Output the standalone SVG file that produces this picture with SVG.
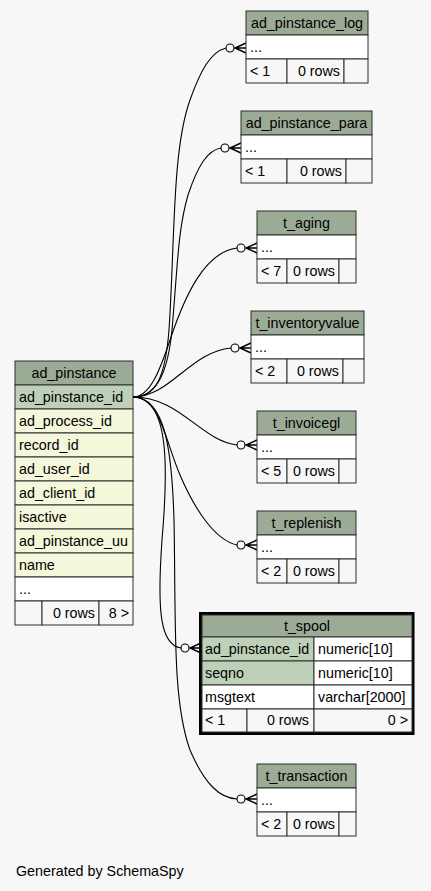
<svg xmlns="http://www.w3.org/2000/svg" width="431" height="891" viewBox="0 0 431 891">
<style>
text{font-family:"Liberation Sans",Arial,Helvetica,sans-serif;font-size:14.3px;fill:#000}
.c{stroke:#2e2e2e;stroke-width:1}
.h{fill:#9bab96}
.k{fill:#bed1b8}
.r{fill:#f4f7da}
.w{fill:#ffffff}
.f{fill:#f7f7f7}
.m{text-anchor:middle}
.e{text-anchor:end}
.edge{fill:none;stroke:#000;stroke-width:1.1}
.o{fill:#f7f7f7;stroke:#000;stroke-width:1.1}
.crow{fill:none;stroke:#000;stroke-width:1.4}
</style>
<rect x="0" y="0" width="431" height="891" fill="#f7f7f7"/>

<g id="connectors">
<path class="edge" d="M133,397 C155,397 165,380 169,330 C175,240 172,150 190,100 C200,72 210,52 226,48"/>
<circle class="o" cx="230" cy="48" r="4"/>
<path class="crow" d="M246,43 L235,48 L246,53 M235,48 L246,48"/>
<path class="edge" d="M133,397 C158,397 168,370 172,330 C178,260 178,230 188,195 C198,165 208,150 221,148"/>
<circle class="o" cx="225" cy="148" r="4"/>
<path class="crow" d="M241,143 L230,148 L241,153 M230,148 L241,148"/>
<path class="edge" d="M133,397 C150,397 160,370 170,340 C185,295 205,252 237,248"/>
<circle class="o" cx="241" cy="248" r="4"/>
<path class="crow" d="M257,243 L246,248 L257,253 M246,248 L257,248"/>
<path class="edge" d="M133,397 C170,397 190,352 231,348"/>
<circle class="o" cx="235" cy="348" r="4"/>
<path class="crow" d="M251,343 L240,348 L251,353 M240,348 L251,348"/>
<path class="edge" d="M133,397 C180,397 200,440 237,445"/>
<circle class="o" cx="241" cy="445" r="4"/>
<path class="crow" d="M257,440 L246,445 L257,450 M246,445 L257,445"/>
<path class="edge" d="M133,397 C160,397 165,440 180,475 C195,510 215,540 237,545"/>
<circle class="o" cx="241" cy="545" r="4"/>
<path class="crow" d="M257,540 L246,545 L257,550 M246,545 L257,545"/>
<path class="edge" d="M133,397 C170,397 168,470 162,540 C157,610 160,645 181,648"/>
<circle class="o" cx="185" cy="648" r="4"/>
<path class="crow" d="M201,643 L190,648 L201,653 M190,648 L201,648"/>
<path class="edge" d="M133,397 C165,397 172,450 174,520 C176,620 172,700 190,750 C205,785 220,798 237,799"/>
<circle class="o" cx="241" cy="799" r="4"/>
<path class="crow" d="M257,794 L246,799 L257,804 M246,799 L257,799"/>
</g>

<g id="ad_pinstance">
<rect class="c h" x="15" y="361" width="118" height="24"/>
<text class="m" x="74" y="378">ad_pinstance</text>
<rect class="c k" x="15" y="385" width="118" height="24"/>
<text x="19" y="402">ad_pinstance_id</text>
<rect class="c r" x="15" y="409" width="118" height="24"/>
<text x="19" y="426">ad_process_id</text>
<rect class="c r" x="15" y="433" width="118" height="24"/>
<text x="19" y="450">record_id</text>
<rect class="c r" x="15" y="457" width="118" height="24"/>
<text x="19" y="474">ad_user_id</text>
<rect class="c r" x="15" y="481" width="118" height="24"/>
<text x="19" y="498">ad_client_id</text>
<rect class="c r" x="15" y="505" width="118" height="24"/>
<text x="19" y="522">isactive</text>
<rect class="c r" x="15" y="529" width="118" height="24"/>
<text x="19" y="546">ad_pinstance_uu</text>
<rect class="c r" x="15" y="553" width="118" height="24"/>
<text x="19" y="570">name</text>
<rect class="c w" x="15" y="577" width="118" height="24"/>
<text x="19" y="594">...</text>
<rect class="c f" x="15" y="601" width="27" height="24"/>
<rect class="c f" x="42" y="601" width="57" height="24"/>
<rect class="c f" x="99" y="601" width="34" height="24"/>
<text class="e" x="95" y="618">0 rows</text>
<text class="e" x="129" y="618">8 &gt;</text>
</g>

<g id="ad_pinstance_log">
<rect class="c h" x="246" y="11" width="122" height="24"/>
<text class="m" x="307" y="28">ad_pinstance_log</text>
<rect class="c w" x="246" y="35" width="122" height="24"/>
<text x="250" y="52">...</text>
<rect class="c f" x="246" y="59" width="41" height="24"/>
<rect class="c f" x="287" y="59" width="57" height="24"/>
<rect class="c f" x="344" y="59" width="24" height="24"/>
<text x="250" y="76">&lt; 1</text>
<text class="e" x="340" y="76">0 rows</text>
</g>

<g id="ad_pinstance_para">
<rect class="c h" x="241" y="111" width="131" height="24"/>
<text class="m" x="306.5" y="128">ad_pinstance_para</text>
<rect class="c w" x="241" y="135" width="131" height="24"/>
<text x="245" y="152">...</text>
<rect class="c f" x="241" y="159" width="46" height="24"/>
<rect class="c f" x="287" y="159" width="59" height="24"/>
<rect class="c f" x="346" y="159" width="26" height="24"/>
<text x="245" y="176">&lt; 1</text>
<text class="e" x="342" y="176">0 rows</text>
</g>

<g id="t_aging">
<rect class="c h" x="257" y="211" width="99" height="24"/>
<text class="m" x="306.5" y="228">t_aging</text>
<rect class="c w" x="257" y="235" width="99" height="24"/>
<text x="261" y="252">...</text>
<rect class="c f" x="257" y="259" width="30" height="24"/>
<rect class="c f" x="287" y="259" width="52" height="24"/>
<rect class="c f" x="339" y="259" width="17" height="24"/>
<text x="261" y="276">&lt; 7</text>
<text class="e" x="335" y="276">0 rows</text>
</g>

<g id="t_inventoryvalue">
<rect class="c h" x="251" y="311" width="113" height="24"/>
<text class="m" x="307.5" y="328">t_inventoryvalue</text>
<rect class="c w" x="251" y="335" width="113" height="24"/>
<text x="255" y="352">...</text>
<rect class="c f" x="251" y="359" width="36" height="24"/>
<rect class="c f" x="287" y="359" width="56" height="24"/>
<rect class="c f" x="343" y="359" width="21" height="24"/>
<text x="255" y="376">&lt; 2</text>
<text class="e" x="339" y="376">0 rows</text>
</g>

<g id="t_invoicegl">
<rect class="c h" x="257" y="411" width="99" height="24"/>
<text class="m" x="306.5" y="428">t_invoicegl</text>
<rect class="c w" x="257" y="435" width="99" height="24"/>
<text x="261" y="452">...</text>
<rect class="c f" x="257" y="459" width="30" height="24"/>
<rect class="c f" x="287" y="459" width="52" height="24"/>
<rect class="c f" x="339" y="459" width="17" height="24"/>
<text x="261" y="476">&lt; 5</text>
<text class="e" x="335" y="476">0 rows</text>
</g>

<g id="t_replenish">
<rect class="c h" x="257" y="511" width="99" height="24"/>
<text class="m" x="306.5" y="528">t_replenish</text>
<rect class="c w" x="257" y="535" width="99" height="24"/>
<text x="261" y="552">...</text>
<rect class="c f" x="257" y="559" width="30" height="24"/>
<rect class="c f" x="287" y="559" width="52" height="24"/>
<rect class="c f" x="339" y="559" width="17" height="24"/>
<text x="261" y="576">&lt; 2</text>
<text class="e" x="335" y="576">0 rows</text>
</g>

<g id="t_spool">
<rect x="200.5" y="613.5" width="212.5" height="120" fill="#f7f7f7" stroke="#000" stroke-width="3"/>
<rect class="c h" x="202" y="615" width="210" height="22"/>
<text class="m" x="307" y="631">t_spool</text>
<rect class="c k" x="202" y="637" width="112" height="24"/>
<rect class="c w" x="314" y="637" width="98" height="24"/>
<text x="205" y="654">ad_pinstance_id</text>
<text x="318" y="654">numeric[10]</text>
<rect class="c k" x="202" y="661" width="112" height="24"/>
<rect class="c w" x="314" y="661" width="98" height="24"/>
<text x="205" y="678">seqno</text>
<text x="318" y="678">numeric[10]</text>
<rect class="c w" x="202" y="685" width="112" height="24"/>
<rect class="c w" x="314" y="685" width="98" height="24"/>
<text x="205" y="702">msgtext</text>
<text x="318" y="702">varchar[2000]</text>
<rect class="c f" x="202" y="709" width="45" height="23"/>
<rect class="c f" x="247" y="709" width="67" height="23"/>
<rect class="c f" x="314" y="709" width="98" height="23"/>
<text x="205" y="725">&lt; 1</text>
<text class="e" x="309" y="725">0 rows</text>
<text class="e" x="408" y="725">0 &gt;</text>
</g>

<g id="t_transaction">
<rect class="c h" x="257" y="764" width="99" height="24"/>
<text class="m" x="306.5" y="781">t_transaction</text>
<rect class="c w" x="257" y="788" width="99" height="24"/>
<text x="261" y="805">...</text>
<rect class="c f" x="257" y="812" width="30" height="24"/>
<rect class="c f" x="287" y="812" width="52" height="24"/>
<rect class="c f" x="339" y="812" width="17" height="24"/>
<text x="261" y="829">&lt; 2</text>
<text class="e" x="335" y="829">0 rows</text>
</g>

<text x="16" y="876">Generated by SchemaSpy</text>
</svg>
